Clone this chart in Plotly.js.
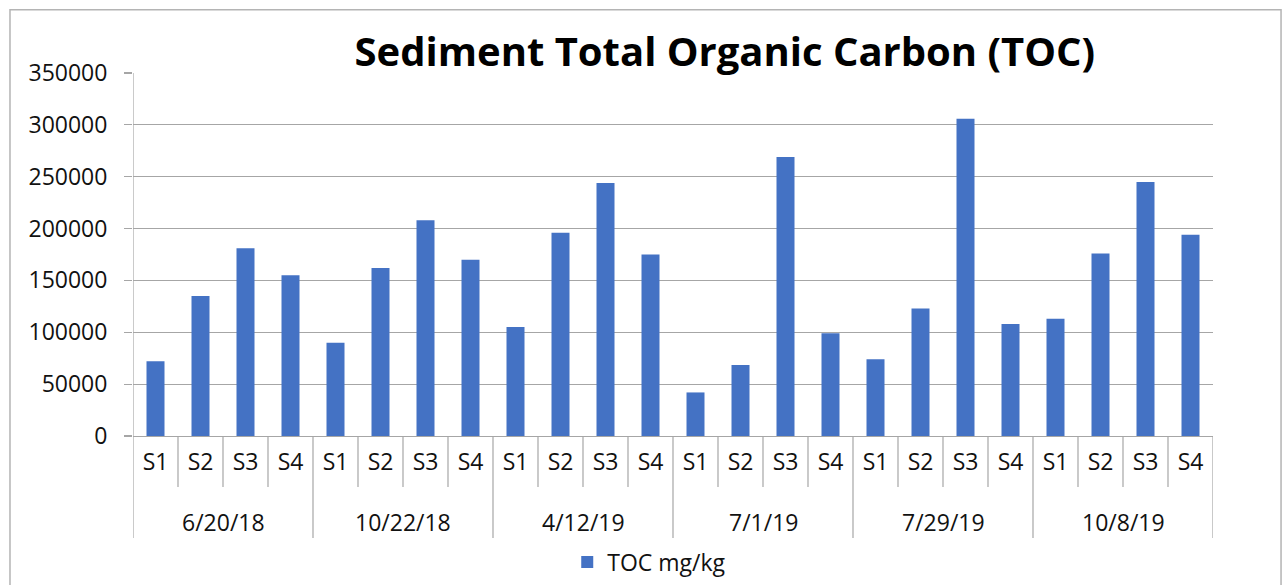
<!DOCTYPE html>
<html>
<head>
<meta charset="utf-8">
<script src="https://cdn.plot.ly/plotly-3.0.1.min.js"></script>
<style>html,body{margin:0;padding:0;background:#fff;}#chart{width:1282px;height:585px;}</style>
</head>
<body>
<div id="chart"></div>
<script>
var dates = ["6/20/18", "10/22/18", "4/12/19", "7/1/19", "7/29/19", "10/8/19"];
var stations = ["S1", "S2", "S3", "S4"];
var toc_0620_18 = [72000, 135000, 181000, 155000];
var toc_1022_18 = [90000, 162000, 208000, 170000];
var toc_0412_19 = [105000, 196000, 244000, 175000];
var toc_0701_19 = [42000, 68500, 269000, 99000];
var toc_0729_19 = [74000, 123000, 306000, 108000];
var toc_1008_19 = [113000, 176000, 245000, 194000];
var seriesName = "TOC mg/kg";
var yTicks = [0, 50000, 100000, 150000, 200000, 250000, 300000, 350000];

var groups = [toc_0620_18, toc_1022_18, toc_0412_19, toc_0701_19, toc_0729_19, toc_1008_19];

var xKeys = [], xText = [], yVals = [];
dates.forEach(function (d, g) {
  stations.forEach(function (s, k) {
    xKeys.push(d + " " + s);
    xText.push(s);
    yVals.push(groups[g][k]);
  });
});

var n = xKeys.length;
var lineColor = "#a6a6a6";
var shapes = [];
for (var i = 0; i <= n; i++) {
  var isGroup = (i % stations.length === 0);
  shapes.push({
    type: "line", xref: "x", yref: "paper",
    x0: i - 0.5, x1: i - 0.5,
    y0: isGroup && (i === 0) ? 1 : 0,
    y1: isGroup ? -0.281 : -0.1405,
    line: {color: lineColor, width: 1.2}
  });
}
// chart outer border
shapes.push({
  type: "rect", xref: "paper", yref: "paper",
  x0: -0.1139, x1: 1.063, y0: -0.47, y1: 1.174,
  line: {color: "#b4b4b4", width: 1.5}
});

var annotations = dates.map(function (d, g) {
  return {
    x: g * stations.length + (stations.length - 1) / 2, xref: "x",
    y: -0.237, yref: "paper",
    text: d, showarrow: false,
    xanchor: "center", yanchor: "middle",
    font: {family: "Open Sans", size: 23, color: "#111"}
  };
});

var trace = {
  type: "bar",
  x: xKeys,
  y: yVals,
  name: seriesName,
  marker: {color: "#4472C4"},
  showlegend: true,
  hoverinfo: "y"
};

var layout = {
  width: 1282, height: 585,
  margin: {l: 133, r: 69, t: 73, b: 149, autoexpand: false},
  paper_bgcolor: "#fff", plot_bgcolor: "#fff",
  font: {family: "Open Sans", size: 23, color: "#111"},
  title: {
    text: "<b>Sediment Total Organic Carbon (TOC)</b>",
    font: {family: "Open Sans", size: 40, color: "#000"},
    x: 0.548, xref: "paper", xanchor: "center",
    y: 0.911, yref: "container", yanchor: "middle"
  },
  bargap: 0.6,
  xaxis: {
    type: "category",
    tickmode: "array",
    tickvals: xKeys,
    ticktext: xText,
    ticks: "",
    showgrid: false,
    showline: true, linecolor: lineColor, linewidth: 1.2,
    zeroline: false,
    tickfont: {family: "Open Sans", size: 23, color: "#111"},
    ticklabelstandoff: 5,
    range: [-0.5, n - 0.5],
    automargin: false,
    fixedrange: true
  },
  yaxis: {
    range: [0, 350000],
    tickmode: "array",
    tickvals: yTicks,
    ticktext: yTicks.map(String),
    showgrid: true, gridcolor: lineColor, gridwidth: 1.2,
    zeroline: false,
    showline: false,
    ticks: "outside", ticklen: 8, tickcolor: lineColor, tickwidth: 1.2,
    ticklabelstandoff: 12,
    tickfont: {family: "Open Sans", size: 23, color: "#111"},
    automargin: false,
    fixedrange: true
  },
  legend: {
    orientation: "h",
    x: 0.478, xanchor: "center",
    y: -0.347, yanchor: "middle",
    font: {family: "Open Sans", size: 23, color: "#111"},
    itemwidth: 30
  },
  shapes: shapes,
  annotations: annotations
};

Plotly.newPlot("chart", [trace], layout, {displayModeBar: false, staticPlot: true});
</script>
</body>
</html>
